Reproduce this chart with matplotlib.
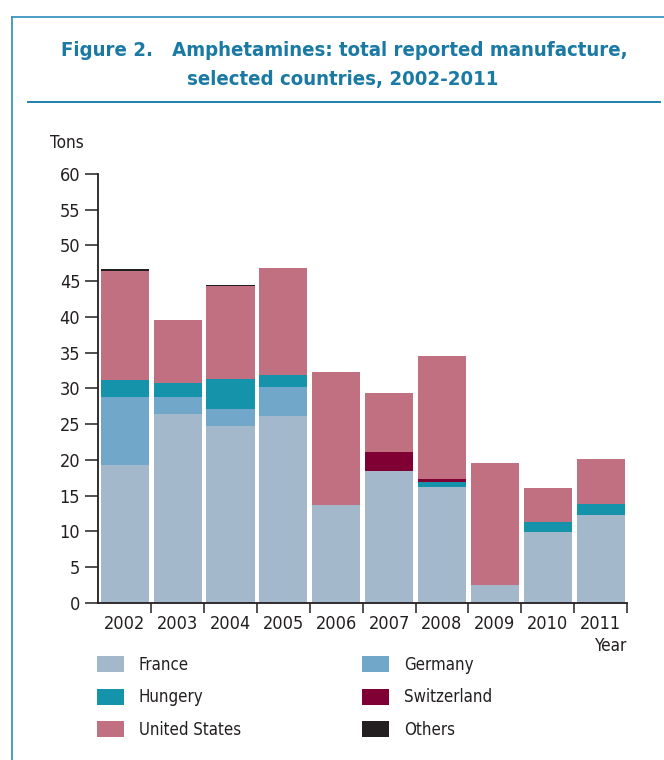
import matplotlib

matplotlib.use("Agg")
import matplotlib.pyplot as plt  # noqa: E402
from matplotlib import font_manager as fm  # noqa: E402
from matplotlib.lines import Line2D  # noqa: E402
import numpy as np  # noqa: E402

years = ["2002", "2003", "2004", "2005", "2006", "2007", "2008", "2009", "2010", "2011"]
france = [19.3, 26.4, 24.75, 26.1, 13.7, 18.45, 16.2, 2.5, 9.9, 12.3]
germany = [9.5, 2.4, 2.35, 4.1, 0, 0, 0, 0, 0, 0]
hungary = [2.4, 1.9, 4.2, 1.7, 0, 0, 0.7, 0, 1.4, 1.5]
switzerland = [0, 0, 0, 0, 0, 2.65, 0.4, 0, 0, 0]
united_states = [15.25, 8.9, 13.0, 15.0, 18.6, 8.3, 17.25, 17.05, 4.8, 6.3]
others = [0.3, 0, 0.2, 0, 0, 0, 0, 0, 0, 0]

series = [
    ("France", france, "#a4b8cc"),
    ("Germany", germany, "#71a7c9"),
    ("Hungery", hungary, "#1593aa"),
    ("Switzerland", switzerland, "#810033"),
    ("United States", united_states, "#c17081"),
    ("Others", others, "#231f20"),
]

TITLE_COLOR = "#1a7aa3"
AXIS_COLOR = "#231f20"


def pick_font(bold):
    # the reference uses a condensed grotesque; take a narrow face if one is installed
    want = 700 if bold else 400
    best = None
    for f in fm.fontManager.ttflist:
        st = f.stretch
        narrow = (isinstance(st, str) and "condensed" in st) or (isinstance(st, int) and st < 500) \
            or "Narrow" in f.name or "Condensed" in f.name
        if not narrow or f.style != "normal":
            continue
        w = f.weight if isinstance(f.weight, int) else (700 if "bold" in str(f.weight) else 400)
        score = abs(w - want)
        if best is None or score < best[0]:
            best = (score, f.fname)
    if best is not None and best[0] <= 100:
        return fm.FontProperties(fname=best[1])
    return fm.FontProperties(family="Roboto", weight="bold" if bold else "normal")


FONT = pick_font(False)
FONT_B = pick_font(True)

W, H = 664, 760
fig = plt.figure(figsize=(W / 100, H / 100), dpi=100)
renderer = fig.canvas.get_renderer()


def fit(s, target_px, prop, base=14.0):
    # font size that makes text s about target_px wide
    t = fig.text(0, 0, s, fontproperties=prop, fontsize=base)
    w = t.get_window_extent(renderer).width
    t.remove()
    return base * target_px / w


# frame and title rule
fig.add_artist(Line2D([12 / W, 12 / W], [0, 1 - 17 / H], color="#3d94bd", lw=1.3))
fig.add_artist(Line2D([12 / W, 1], [1 - 17 / H, 1 - 17 / H], color="#3d94bd", lw=1.3))
fig.add_artist(Line2D([28 / W, 660 / W], [1 - 101.5 / H, 1 - 101.5 / H], color="#1f80ad", lw=1.4))

title1 = "Figure 2.   Amphetamines: total reported manufacture,"
title2 = "selected countries, 2002-2011"
ts = fit(title1, 572, FONT_B)
fig.text(344 / W, 1 - 51 / H, title1, ha="center", va="center",
         fontproperties=FONT_B, fontsize=ts, color=TITLE_COLOR)
fig.text(343 / W, 1 - 80 / H, title2, ha="center", va="center",
         fontproperties=FONT_B, fontsize=ts, color=TITLE_COLOR)

ax = fig.add_axes([98.3 / W, (H - 602.7) / H, (627 - 98.3) / W, (602.7 - 174) / H])

x = np.arange(len(years))
bottom = np.zeros(len(years))
handles = {}
for name, vals, color in series:
    vals = np.array(vals, dtype=float)
    b = ax.bar(x, vals, width=0.91, bottom=bottom, color=color, linewidth=0, label=name)
    handles[name] = b
    bottom += vals

ax.set_xlim(-0.5, len(years) - 0.5)
ax.set_ylim(0, 60)
ax.set_yticks(np.arange(0, 61, 5))
ax.set_xticks(x)
ax.set_xticklabels(years)
ax.set_xticks(np.arange(0.5, len(years), 1), minor=True)

for s in ["top", "right"]:
    ax.spines[s].set_visible(False)
for s in ["left", "bottom"]:
    ax.spines[s].set_color(AXIS_COLOR)
    ax.spines[s].set_linewidth(1.3)

tick_size = fit("2002", 40, FONT) * 1.03
ax.tick_params(axis="y", direction="out", length=9.5, width=1.1, color=AXIS_COLOR,
               pad=3.5, labelcolor=AXIS_COLOR)
ax.tick_params(axis="x", which="major", length=0, pad=9.0, labelcolor=AXIS_COLOR)
ax.tick_params(axis="x", which="minor", direction="out", length=7.5, width=1.1, color=AXIS_COLOR)
for lab in ax.get_xticklabels() + ax.get_yticklabels():
    lab.set_fontproperties(FONT)
    lab.set_fontsize(tick_size)

lab_size = fit("Tons", 34, FONT)
fig.text(50 / W, 1 - 143 / H, "Tons", ha="left", va="center",
         fontproperties=FONT, fontsize=lab_size, color=AXIS_COLOR)
fig.text(627 / W, 1 - 646 / H, "Year", ha="right", va="center",
         fontproperties=FONT, fontsize=lab_size, color=AXIS_COLOR)

order = ["France", "Hungery", "United States", "Germany", "Switzerland", "Others"]
leg_size = fit("United States", 103, FONT)
leg_prop = FONT.copy()
leg_prop.set_size(leg_size)
px_per_fs = leg_size * 100 / 72
leg = fig.legend(
    [handles[n] for n in order], order,
    loc="upper left", bbox_to_anchor=(97 / W, 1 - 656 / H), bbox_transform=fig.transFigure,
    ncol=2, frameon=False, prop=leg_prop,
    handlelength=27 / px_per_fs, handleheight=18 / px_per_fs,
    handletextpad=15 / px_per_fs, labelspacing=14.5 / px_per_fs,
    columnspacing=(363 - 242) / px_per_fs, borderpad=0, borderaxespad=0,
)
for t in leg.get_texts():
    t.set_color(AXIS_COLOR)

fig.savefig("out.png", dpi=100, facecolor="white")
plt.close(fig)
